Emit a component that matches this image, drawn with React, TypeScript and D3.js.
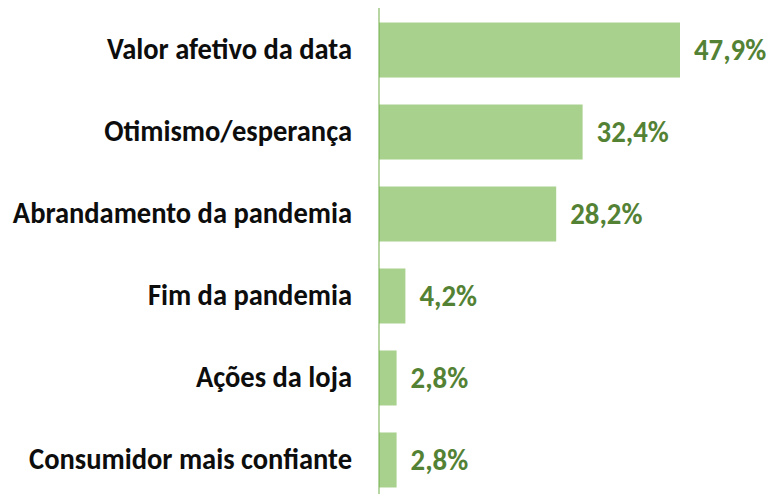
import React from "react";
import * as d3 from "d3";

const categories = [
  "Valor afetivo da data",
  "Otimismo/esperança",
  "Abrandamento da pandemia",
  "Fim da pandemia",
  "Ações da loja",
  "Consumidor mais confiante",
];
const values = [47.9, 32.4, 28.2, 4.2, 2.8, 2.8];
const valueLabels = ["47,9%", "32,4%", "28,2%", "4,2%", "2,8%", "2,8%"];

const W = 769;
const H = 494;
const axisX = 379;
const FONT = "Carlito, Calibri, 'Liberation Sans Narrow', 'Open Sans', sans-serif";

export default function App() {
  const x = d3.scaleLinear().domain([0, 47.9]).range([axisX, 680]);
  const y = d3
    .scaleBand<string>()
    .domain(categories)
    .range([8, 502])
    .paddingInner(0.329)
    .paddingOuter(0.177);

  return (
    <svg
      width={W}
      height={H}
      style={{ position: "absolute", left: 0, top: 0, background: "#fff" }}
    >
      {categories.map((c, i) => {
        const yy = y(c)!;
        const bw = y.bandwidth();
        const cy = yy + bw / 2;
        return (
          <g key={c}>
            <rect
              x={x(0)}
              y={yy}
              width={x(values[i]) - x(0)}
              height={bw}
              fill="#a9d18e"
            />
            <text
              transform={`translate(352,${cy + 9}) scale(0.99,1.08)`}
              textAnchor="end"
              fontFamily={FONT}
              fontWeight="bold"
              fontSize={28.8}
              fill="#0d0d0d"
            >
              {c}
            </text>
            <text
              transform={`translate(${x(values[i]) + 14},${cy + 10}) scale(1,1.08)`}
              fontFamily={FONT}
              fontWeight="bold"
              fontSize={28.8}
              fill="#548235"
            >
              {valueLabels[i]}
            </text>
          </g>
        );
      })}
      <line x1={axisX} x2={axisX} y1={8} y2={494} stroke="#70ad47" strokeWidth={1} />
    </svg>
  );
}
